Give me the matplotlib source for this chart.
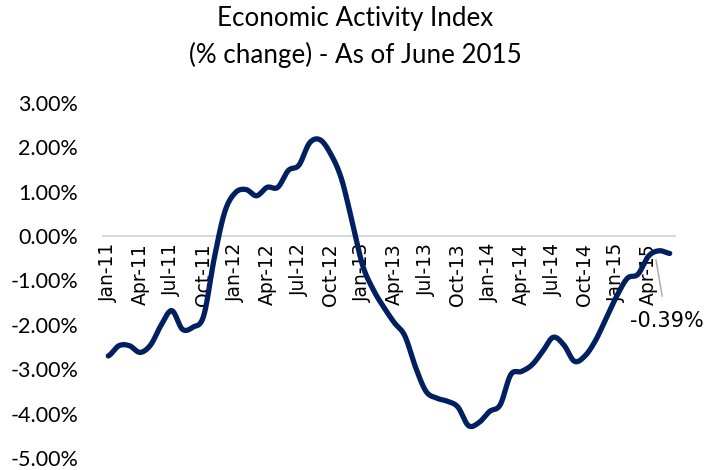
import numpy as np
import matplotlib
matplotlib.use('Agg')
import matplotlib.pyplot as plt
from matplotlib.ticker import FuncFormatter

# monthly index, Jan-11 .. Jun-15 (% change)
months = ['Jan', 'Feb', 'Mar', 'Apr', 'May', 'Jun', 'Jul', 'Aug', 'Sep', 'Oct', 'Nov', 'Dec']
dates = [f'{m}-{y}' for y in range(11, 16) for m in months][:54]
values = [-2.70, -2.47, -2.47, -2.62, -2.45, -2.00, -1.68, -2.10, -2.05, -1.80,
          -0.50, 0.55, 0.98, 1.05, 0.91, 1.10, 1.10, 1.48, 1.60, 2.10,
          2.17, 1.85, 1.30, 0.35, -0.65, -1.20, -1.60, -1.95, -2.25, -2.95,
          -3.50, -3.65, -3.72, -3.85, -4.27, -4.20, -3.95, -3.80, -3.12, -3.05,
          -2.90, -2.60, -2.28, -2.45, -2.82, -2.70, -2.35, -1.85, -1.35, -0.95,
          -0.86, -0.45, -0.33, -0.39]
last_label = '-0.39%'


def smooth(y, n=20):
    # catmull-rom curve through the points, like excel's smoothed line
    p = np.concatenate([[y[0]], y, [y[-1]]])
    xs, ys = [], []
    for i in range(len(y) - 1):
        p0, p1, p2, p3 = p[i], p[i + 1], p[i + 2], p[i + 3]
        t = np.linspace(0, 1, n, endpoint=False)
        ys.append(0.5 * (2 * p1 + (-p0 + p2) * t + (2 * p0 - 5 * p1 + 4 * p2 - p3) * t ** 2
                         + (-p0 + 3 * p1 - 3 * p2 + p3) * t ** 3))
        xs.append(i + t)
    xs.append([len(y) - 1])
    ys.append([y[-1]])
    return np.concatenate(xs), np.concatenate(ys)


x = np.arange(len(values))
sx, sy = smooth(np.array(values))

fig = plt.figure(figsize=(7.11, 4.70), dpi=100)
ax = fig.add_axes([103 / 711, 1 - 458 / 470, (675 - 103) / 711, (458 - 103) / 470])

ax.plot(sx, sy, color='#002060', lw=3.8, solid_capstyle='round', zorder=3)

for s in ['top', 'right', 'left']:
    ax.spines[s].set_visible(False)
ax.spines['bottom'].set_position(('data', 0))
ax.spines['bottom'].set_color('#d9d9d9')
ax.spines['bottom'].set_linewidth(1.5)

ax.set_xlim(-0.5, len(values) - 0.5)
ax.set_ylim(-5, 3)
ax.set_yticks(range(-5, 4))
ax.yaxis.set_major_formatter(FuncFormatter(lambda v, p: f'{v:.2f}%'))
for lab in ax.get_yticklabels():
    lab.set_fontfamily('Lato')
    lab.set_fontsize(15.5)
ax.tick_params(axis='y', length=0, pad=18)

ticks = list(range(0, len(values), 3))
ax.set_xticks(ticks)
ax.set_xticklabels([dates[i] for i in ticks], rotation=90, fontsize=13.5, family='DejaVu Sans')
ax.tick_params(axis='x', length=0, pad=5)

# data label for the last point
ax.annotate(last_label, xy=(x[-2] - 0.3, values[-2] - 0.2), xytext=(x[-1] - 0.3, -1.92),
            ha='center', va='center', fontsize=15, family='DejaVu Sans',
            arrowprops=dict(arrowstyle='-', color='#a6a6a6', lw=1, shrinkA=9, shrinkB=0))

fig.suptitle('Economic Activity Index\n(% change) - As of June 2015', family='Lato',
             fontsize=18.7, y=0.987, va='top', linespacing=1.5)

fig.savefig('out.png', dpi=100)
